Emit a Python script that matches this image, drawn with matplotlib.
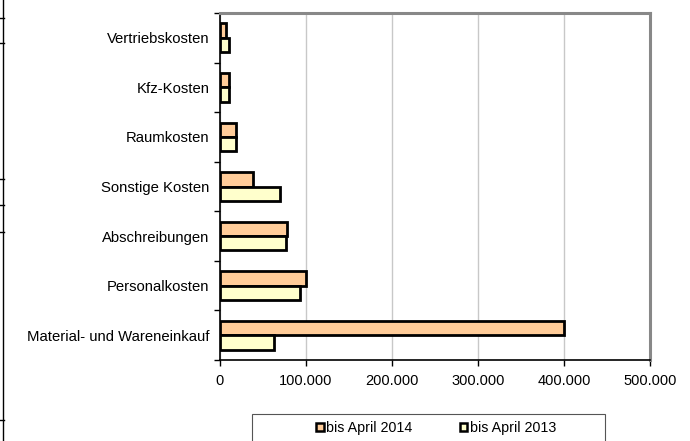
import matplotlib
matplotlib.use("Agg")
import matplotlib.pyplot as plt
from matplotlib.patches import Patch, Rectangle
from matplotlib.lines import Line2D
from matplotlib.ticker import FuncFormatter, FixedLocator

plt.rcParams['font.family'] = ['Liberation Sans', 'DejaVu Sans']

categories = ["Material- und Wareneinkauf", "Personalkosten", "Abschreibungen",
              "Sonstige Kosten", "Raumkosten", "Kfz-Kosten", "Vertriebskosten"]
values_2014 = [399500, 99500, 78000, 38500, 19000, 10000, 6500]
values_2013 = [63000, 92500, 77000, 70000, 19000, 11000, 10000]
series_labels = ["bis April 2014", "bis April 2013"]
xticks = [0, 100000, 200000, 300000, 400000, 500000]

c14 = "#FFCC99"
c13 = "#FFFFCC"

fig = plt.figure(figsize=(6.9, 4.41), dpi=100)
W, H = 690, 441
ax = fig.add_axes([220 / W, (H - 360) / H, 430 / W, 347 / H])

ypos = list(range(len(categories)))
bh = 0.29
ax.barh([y + bh / 2 for y in ypos], values_2014, height=bh, color=c14,
        edgecolor="black", linewidth=2.0, zorder=3)
ax.barh([y - bh / 2 for y in ypos], values_2013, height=bh, color=c13,
        edgecolor="black", linewidth=2.0, zorder=3)

ax.set_xlim(0, 500000)
ax.set_ylim(-0.5, len(categories) - 0.5)
ax.set_xticks(xticks)
ax.xaxis.set_major_formatter(FuncFormatter(lambda v, p: f"{int(v):,}".replace(",", ".")))
ax.set_yticks(ypos)
ax.set_yticklabels(categories)
ax.yaxis.set_minor_locator(FixedLocator([y - 0.5 for y in range(len(categories) + 1)]))
ax.tick_params(axis="y", which="major", length=0, pad=7.5, labelsize=10.7)
ax.tick_params(axis="y", which="minor", length=4, width=1, direction="out")
ax.tick_params(axis="x", which="major", length=4, width=1, direction="out", pad=6, labelsize=10.5)

ax.grid(axis="x", color="#C8C8C8", linewidth=1, zorder=0)
ax.set_axisbelow(True)
for s in ["left", "bottom"]:
    ax.spines[s].set_color("black")
    ax.spines[s].set_linewidth(1.2)
for s in ["top", "right"]:
    ax.spines[s].set_color("#888888")
    ax.spines[s].set_linewidth(2.2)

# legend box
fig.patches.append(Rectangle((252 / W, -0.05), (605 - 252) / W, (H - 414) / H + 0.05,
                             transform=fig.transFigure, facecolor="white",
                             edgecolor="#555555", linewidth=0.8))
handles = [Patch(facecolor=c14, edgecolor="black", linewidth=1.8),
           Patch(facecolor=c13, edgecolor="black", linewidth=1.8)]
fig.legend(handles, series_labels, loc="center", bbox_to_anchor=(436 / W, (H - 428) / H),
           ncol=2, frameon=False, fontsize=10.3, handlelength=0.55, handleheight=0.55,
           handletextpad=0.15, columnspacing=3.3)

# left edge decorations
fig.add_artist(Line2D([2.5 / W, 2.5 / W], [0, 1], transform=fig.transFigure,
                      color="black", linewidth=1))
for yy in [18, 43, 179, 205, 232, 420]:
    fig.add_artist(Line2D([0, 4 / W], [(H - yy) / H, (H - yy) / H],
                          transform=fig.transFigure, color="black", linewidth=1))

fig.savefig("out.png", dpi=100)
